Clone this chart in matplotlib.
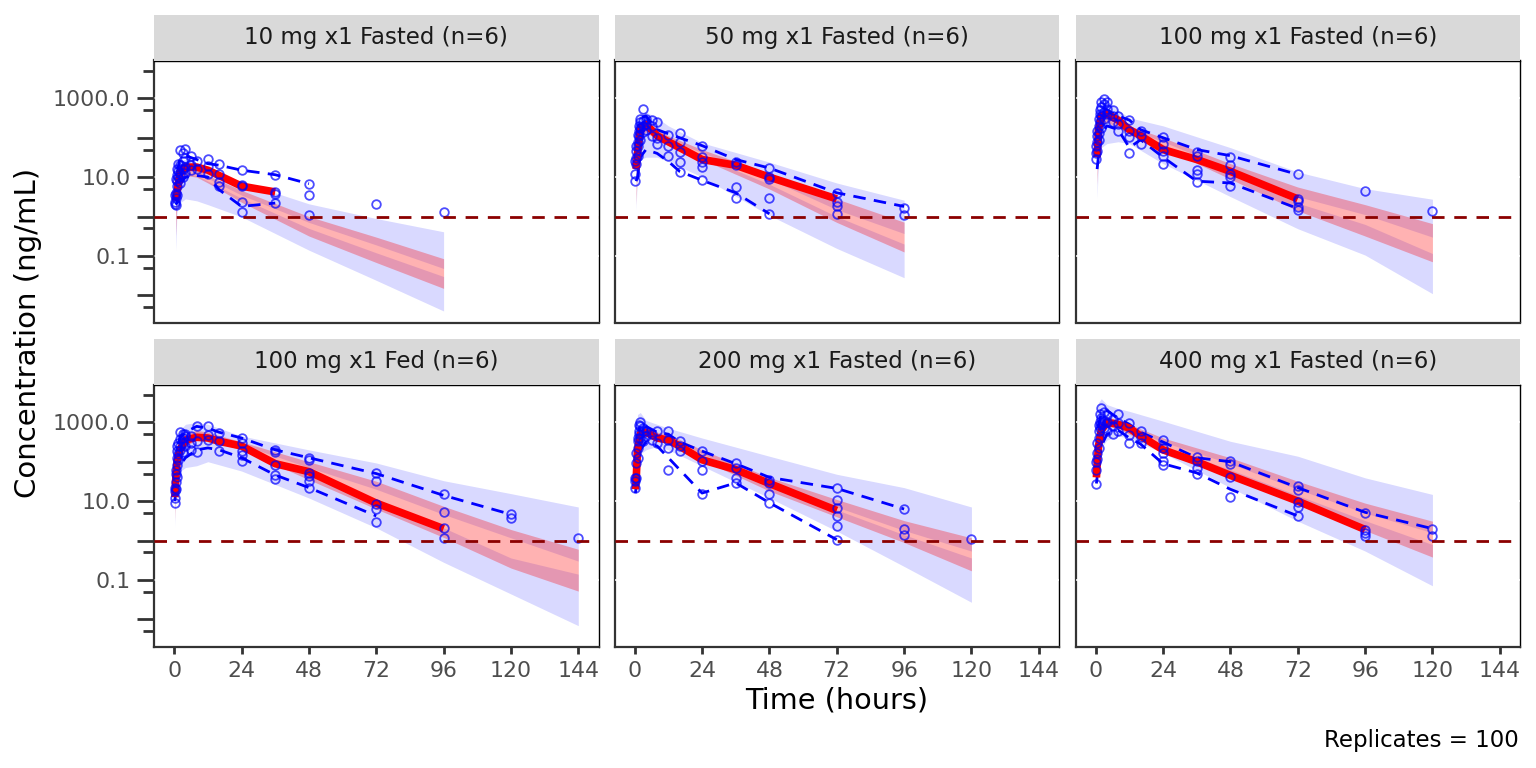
import matplotlib
matplotlib.use("Agg")
import matplotlib.pyplot as plt
from matplotlib.ticker import FixedLocator, FixedFormatter

# --- facet labels / reference values ---
PANELS = ["10 mg x1 Fasted (n=6)", "50 mg x1 Fasted (n=6)", "100 mg x1 Fasted (n=6)",
          "100 mg x1 Fed (n=6)", "200 mg x1 Fasted (n=6)", "400 mg x1 Fasted (n=6)"]
LLOQ = 1.0
N_REP = 100
X_TICKS = [0, 24, 48, 72, 96, 120, 144]
Y_LABELS = {0.1: "0.1", 10: "10.0", 1000: "1000.0"}

# --- simulated bands (ng/mL) per panel: 5-95% interval, CI of median, and the gap
#     between the CI of the 5th and of the 95th percentile ---
BAND_T = [
    [0.5, 1, 2, 4, 8, 12, 24, 48, 72, 96],
    [0.5, 1, 2, 4, 8, 12, 24, 48, 72, 96],
    [0.5, 1, 2, 4, 8, 12, 24, 48, 72, 96, 120],
    [0.25, 0.5, 1, 2, 4, 8, 12, 24, 48, 72, 96, 120, 144],
    [0.25, 0.5, 1, 2, 4, 8, 12, 24, 48, 72, 96, 120],
    [0.25, 0.5, 1, 2, 4, 8, 12, 24, 48, 72, 96, 120],
]
PI_LO = [
    [0.13, 1.3, 2.2, 2.8, 2.5, 2.0, 0.98, 0.14, 0.024, 0.004],
    [1.4, 16, 28, 32, 32, 25, 10, 1.07, 0.155, 0.028],
    [2.8, 32, 56, 71, 79, 71, 22, 3.2, 0.49, 0.105, 0.011],
    [2.1, 12.6, 32, 56, 71, 79, 100, 58, 12, 2.1, 0.28, 0.044, 0.0069],
    [12, 50, 100, 158, 200, 245, 200, 78, 12, 1.74, 0.22, 0.027],
    [25, 40, 100, 224, 355, 450, 400, 166, 22, 3.1, 0.54, 0.071],
]
PI_HI = [
    [8, 20, 28, 28, 22, 16, 7.6, 2.1, 0.89, 0.41],
    [100, 250, 400, 450, 320, 200, 74, 24, 7.1, 2.6],
    [250, 630, 890, 890, 500, 320, 200, 56, 13.5, 5.1, 2.75],
    [10, 63, 250, 630, 890, 1000, 890, 450, 200, 93, 33, 15.5, 7.1],
    [32, 316, 1580, 1780, 1120, 890, 710, 400, 138, 48, 22, 7.1],
    [316, 1580, 3160, 3980, 2820, 2240, 1900, 1070, 330, 138, 39, 14.8],
]
CI_LO = [
    [0.32, 3.2, 8.9, 11, 10, 7.1, 2.3, 0.32, 0.068, 0.015],
    [2.0, 25, 100, 140, 89, 63, 28, 5.0, 0.71, 0.126],
    [6.3, 63, 200, 250, 178, 126, 56, 8.9, 1.4, 0.32, 0.071],
    [3.2, 14, 50, 112, 250, 355, 355, 200, 35, 6.3, 1.2, 0.2, 0.052],
    [13, 55, 110, 316, 450, 355, 316, 112, 18, 4.0, 0.89, 0.17],
    [32, 63, 250, 630, 790, 710, 500, 200, 45, 8.9, 1.8, 0.38],
]
CI_HI = [
    [1.6, 7.9, 16, 18, 16, 11, 4.6, 1.0, 0.3, 0.085],
    [16, 100, 250, 280, 160, 112, 50, 12.6, 2.8, 0.72],
    [40, 200, 400, 450, 280, 200, 100, 22, 5.6, 2.0, 0.66],
    [6.3, 40, 126, 320, 500, 630, 560, 320, 100, 32, 7.4, 1.9, 0.6],
    [20, 100, 250, 630, 790, 560, 500, 200, 40, 11, 3.2, 1.17],
    [63, 200, 630, 1260, 1410, 1120, 890, 400, 126, 32, 8.9, 3.1],
]
GAP_LO = [
    [0.63, 4.5, 11, 12.6, 11, 7.9, 2.9, 0.5, 0.12, 0.03],
    [4.0, 45, 141, 178, 107, 76, 34, 6.6, 1.0, 0.2],
    [12.6, 89, 250, 295, 200, 145, 68, 12, 2.2, 0.63, 0.115],
    [4.0, 18, 71, 158, 316, 417, 400, 229, 50, 11, 2.1, 0.36, 0.14],
    [14, 63, 141, 417, 540, 417, 370, 138, 24, 6.0, 1.4, 0.36],
    [40, 100, 355, 790, 955, 790, 600, 250, 63, 14, 3.2, 0.79],
]
GAP_HI = [
    [0.8, 5.6, 13, 15, 13, 9.3, 3.5, 0.71, 0.19, 0.048],
    [6.3, 63, 178, 214, 126, 89, 42, 8.9, 1.5, 0.37],
    [20, 126, 316, 355, 240, 166, 79, 16, 3.2, 1.12, 0.3],
    [5.0, 25, 89, 224, 400, 500, 480, 270, 71, 20, 4.6, 1.17, 0.3],
    [18, 79, 178, 500, 630, 470, 417, 158, 28, 7.1, 1.8, 0.54],
    [50, 141, 450, 1000, 1120, 930, 710, 316, 89, 20, 5.0, 1.58],
]

# --- observed percentiles (5th, median, 95th) per panel ---
Q_T = [
    [0.5, 1, 2, 4, 8, 12, 16, 24, 36, 48],
    [0.5, 1, 2, 4, 8, 12, 16, 24, 36, 48, 72, 96],
    [0.5, 1, 2, 4, 8, 12, 16, 24, 36, 48, 72],
    [0.25, 0.5, 1, 2, 4, 8, 12, 16, 24, 36, 48, 72, 96, 120],
    [0.25, 0.5, 1, 2, 4, 8, 12, 16, 24, 36, 48, 72, 96],
    [0.25, 0.5, 1, 2, 4, 8, 12, 16, 24, 36, 48, 72, 96, 120],
]
Q_HI = [
    [4.0, 12.6, 28, 35, 28, 22, 20, 15, 11.5, 6.8],
    [32, 160, 320, 355, 160, 126, 100, 63, 28, 17, 4.0, 1.8],
    [63, 320, 630, 500, 355, 280, 160, 100, 50, 35, 11.7],
    [25, 79, 200, 400, 560, 790, 710, 560, 400, 200, 126, 50, 14, 4.6],
    [32, 100, 400, 890, 790, 560, 500, 316, 186, 89, 40, 21, 6.3],
    [63, 200, 790, 1780, 2000, 1260, 890, 560, 316, 126, 100, 22, 5.2, 2.0],
]
Q_MED = [
    [2.5, 4.0, 12.6, 18, 18, 15, 11, 5.9, 4.2],
    [16, 40, 160, 220, 112, 79, 56, 28, 20, 10, 2.8],
    [32, 160, 355, 400, 280, 160, 112, 50, 28, 14, 2.8],
    [12.6, 32, 100, 200, 355, 417, 400, 330, 250, 89, 56, 8.9, 2.0],
    [20, 32, 200, 500, 560, 400, 355, 250, 112, 63, 28, 5.8],
    [40, 79, 250, 630, 1000, 890, 710, 450, 200, 100, 45, 10, 1.9],
]
Q_LO = [
    [2.0, 2.2, 6.3, 10, 11, 10, 4.8, 1.8, 2.2],
    [7.9, 10, 32, 50, 40, 25, 14, 8.3, 4.0, 1.17],
    [16, 35, 126, 200, 160, 56, 89, 32, 7.9, 7.1, 1.6],
    [10, 18, 40, 79, 126, 200, 224, 200, 126, 46, 22, 4.2],
    [16, 22, 63, 200, 316, 250, 126, 63, 16, 29, 9.1, 1.05],
    [28, 40, 100, 250, 500, 630, 400, 280, 89, 52, 20, 4.2],
]

# --- observed concentrations: time -> values, per panel ---
OBS = [
    {0.25: [2.1, 2.3, 3.6], 0.5: [3.0, 4.0, 9.0, 2.0], 1: [6, 11, 16, 3.5, 8],
     1.5: [14, 22, 10], 2: [20, 48, 12, 7], 3: [25, 40, 16, 10], 4: [30, 52, 18, 13],
     6: [35, 20, 15], 8: [25, 16], 12: [29, 19.5, 12], 16: [21, 12, 7.4, 5.8],
     24: [15, 6.2, 5.8, 2.3, 1.3], 36: [11.5, 4.2, 3.8, 2.2], 48: [6.8, 3.6, 1.07],
     72: [2.1], 96: [1.3]},
    {0.25: [7.8, 12, 25], 0.5: [30, 45, 60, 22], 1: [80, 120, 60, 35],
     1.5: [150, 200, 110], 2: [250, 300, 180, 90], 3: [540, 260, 200, 140],
     4: [300, 220, 160], 6: [280, 200, 110], 8: [250, 100, 71], 12: [115, 63, 35],
     16: [135, 80, 44, 24, 13.5], 24: [60, 32, 24, 18, 8.3], 36: [24, 20, 5.6, 3.0],
     48: [17, 10, 8.9, 2.9, 1.17], 72: [4.0, 2.3, 1.9, 1.17], 96: [1.6, 1.07]},
    {0.25: [29, 40, 60], 0.5: [80, 110, 150, 45], 1: [200, 300, 130, 90],
     1.5: [400, 500, 250], 2: [600, 800, 350, 180], 3: [960, 700, 450, 300],
     4: [800, 550, 400], 6: [500, 350, 250], 8: [360, 224, 150], 12: [275, 150, 102, 42],
     16: [150, 112, 69], 24: [102, 69, 47, 35, 22], 36: [43, 35, 15, 12, 7.4],
     48: [32, 20, 12, 10, 5.9], 72: [11.7, 2.8, 2.45, 1.74, 1.45], 96: [4.5], 120: [1.4]},
    {0.25: [9.1, 12, 22, 18], 0.5: [30, 48, 60, 20], 1: [85, 126, 190, 250, 40],
     1.5: [160, 300, 110], 2: [250, 560, 380, 200], 3: [400, 300, 520, 180],
     4: [500, 450, 250], 6: [450, 300, 200], 8: [810, 330, 178], 12: [790, 490, 360],
     16: [540, 330, 186], 24: [400, 300, 186, 150, 102], 36: [204, 178, 85, 46, 37],
     48: [126, 112, 52, 43, 32, 21], 72: [52, 32, 8.5, 6.2, 3.0],
     96: [14.8, 5.4, 2.1, 1.17], 120: [4.6, 3.8], 144: [1.17]},
    {0.25: [22, 32, 39], 0.5: [39, 93, 166], 1: [224, 330, 400, 126],
     1.5: [600, 870, 500], 2: [1000, 800, 400], 3: [700, 590, 330], 4: [600, 450],
     6: [500, 360], 8: [590, 300], 12: [590, 363, 224, 63], 16: [330, 245, 186],
     24: [186, 107, 60, 15.5], 36: [93, 69, 39, 29], 48: [35, 29, 15.5, 9.1],
     72: [21, 10.5, 6.5, 4.2, 2.3, 1.05], 96: [6.3, 1.95, 1.38], 120: [1.12]},
    {0.25: [28, 63, 100], 0.5: [166, 300, 120], 1: [590, 870, 400, 224],
     1.5: [1000, 1600, 700], 2: [2300, 1300, 900], 3: [1800, 1100, 700],
     4: [1500, 1000, 600], 6: [1200, 800, 500], 8: [1580, 950, 590], 12: [950, 490, 300],
     16: [590, 436, 300], 24: [363, 224, 166, 102, 85], 36: [129, 102, 68, 49],
     48: [102, 87, 41, 12.6], 72: [24, 19.5, 9.5, 7.1, 4.2], 96: [5.0, 1.9, 1.58, 1.29],
     120: [2.0, 1.29]},
]

# --- layout (pixels of a 1536x768 canvas) ---
W, H = 1536, 768
COL_X = [154, 614.5, 1075.5]
ROW_Y = [60.5, 384.5]
PW, PH = 444.5, 262
STRIP_H = 45.5

fig = plt.figure(figsize=(W / 100, H / 100), dpi=100)

for i, label in enumerate(PANELS):
    r, c = divmod(i, 3)
    x0, y0 = COL_X[c], ROW_Y[r]
    ax = fig.add_axes([x0 / W, 1 - (y0 + PH) / H, PW / W, PH / H])

    t = BAND_T[i]
    # CI of 5th and 95th percentile (blue), CI of median (red)
    ax.fill_between(t, PI_LO[i], GAP_LO[i], color="blue", alpha=0.15, lw=0, zorder=1)
    ax.fill_between(t, GAP_HI[i], PI_HI[i], color="blue", alpha=0.15, lw=0, zorder=1)
    ax.fill_between(t, CI_LO[i], CI_HI[i], color="red", alpha=0.3, lw=0, zorder=1.1)

    # white major grid (only shows as notches on the border)
    for yv in Y_LABELS:
        ax.axhline(yv, color="white", lw=1.1, zorder=0.8)

    qt = Q_T[i]
    ax.plot(qt[:len(Q_HI[i])], Q_HI[i], color="blue", lw=2.0, dashes=(4.5, 3), zorder=2)
    ax.plot(qt[:len(Q_LO[i])], Q_LO[i], color="blue", lw=2.0, dashes=(4.5, 3), zorder=2)
    ax.plot(qt[:len(Q_MED[i])], Q_MED[i], color="red", lw=5.5, solid_capstyle="butt", zorder=2.1)

    pts_t = [tt for tt, vals in OBS[i].items() for _ in vals]
    pts_c = [v for vals in OBS[i].values() for v in vals]
    ax.plot(pts_t, pts_c, "o", mfc="none", mec="blue", mew=1.3, ms=6.2, alpha=0.7, zorder=3)

    ax.axhline(LLOQ, color="#8B0000", lw=2.0, dashes=(4.5, 3.5), zorder=4)

    ax.set_yscale("log")
    ax.set_xlim(-7.2, 151.2)
    ax.set_ylim(10 ** -2.69, 10 ** 3.96)

    ax.xaxis.set_major_locator(FixedLocator(X_TICKS))
    ax.set_xticklabels([str(v) for v in X_TICKS])
    ax.xaxis.set_minor_locator(FixedLocator([]))
    majors = [10.0 ** k for k in range(-3, 5)]
    ax.yaxis.set_major_locator(FixedLocator(majors))
    ax.yaxis.set_major_formatter(FixedFormatter([Y_LABELS.get(round(m, 3), "") for m in majors]))
    ax.yaxis.set_minor_locator(FixedLocator([5 * 10.0 ** k for k in range(-3, 4)]))
    ax.yaxis.set_minor_formatter(FixedFormatter([]))

    ax.tick_params(axis="y", which="major", length=12, width=2, color="#333333",
                   labelsize=15.8, labelcolor="#4D4D4D", pad=5)
    ax.tick_params(axis="y", which="minor", length=8, width=2, color="#333333")
    ax.tick_params(axis="x", which="major", length=5, width=2, color="#333333",
                   labelsize=15.8, labelcolor="#4D4D4D", pad=5.5)
    if c > 0:
        ax.tick_params(axis="y", which="both", left=False, labelleft=False)
    if r == 0:
        ax.tick_params(axis="x", which="both", bottom=False, labelbottom=False)

    for side, sp in ax.spines.items():
        sp.set_zorder(0.5)
        if side in ("left", "bottom"):
            sp.set_color("#333333")
            sp.set_linewidth(1.6)
        else:
            sp.set_color("black")
            sp.set_linewidth(1.0)

    # facet strip
    sax = fig.add_axes([x0 / W, 1 - y0 / H, PW / W, STRIP_H / H])
    sax.set_facecolor("#D9D9D9")
    sax.set_xticks([])
    sax.set_yticks([])
    for sp in sax.spines.values():
        sp.set_visible(False)
    sax.text(0.5, 0.5, label, ha="center", va="center", fontsize=16.5, color="#1A1A1A",
             transform=sax.transAxes)

fig.text(28 / W, 1 - 333 / H, "Concentration (ng/mL)", rotation=90, ha="center", va="center",
         fontsize=21, color="black")
fig.text(837 / W, 1 - 700 / H, "Time (hours)", ha="center", va="center", fontsize=20.7,
         color="black")
fig.text(1519 / W, 1 - 741 / H, f"Replicates = {N_REP}", ha="right", va="center",
         fontsize=16.5, color="black")

fig.savefig("out.png", dpi=100)
